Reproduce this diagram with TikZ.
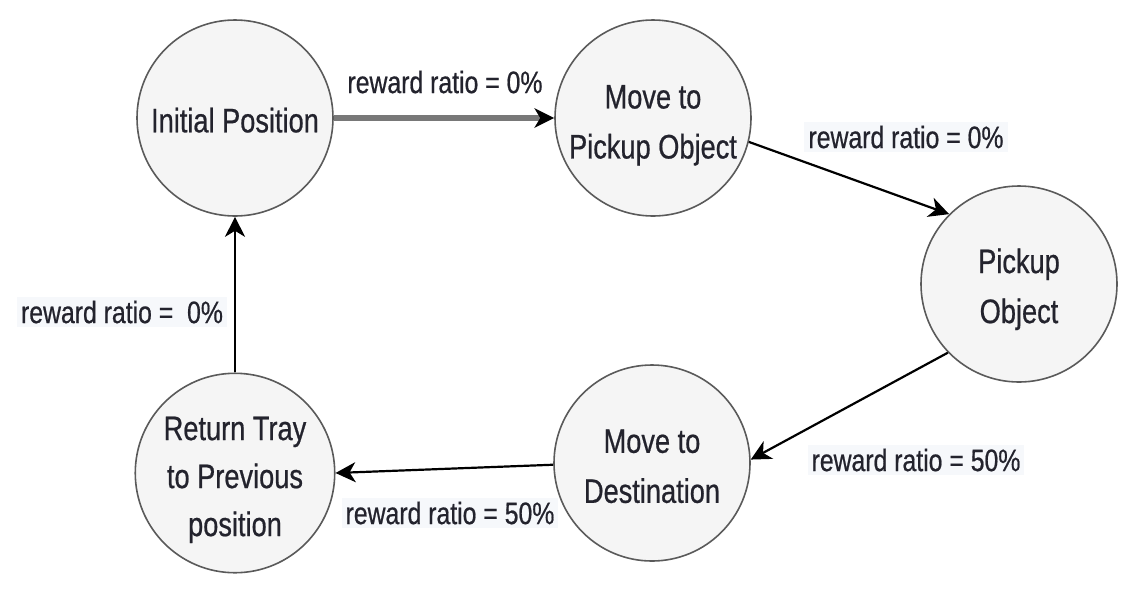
\documentclass[tikz,border=0pt]{standalone}
\usepackage{fontspec}
\setmainfont[FakeStretch=0.8,FakeBold=0.6]{Liberation Sans}
\usetikzlibrary{arrows.meta}
\definecolor{statefill}{RGB}{245,245,245}
\definecolor{stateline}{RGB}{90,90,90}
\definecolor{labelbg}{RGB}{246,248,251}
\definecolor{textcol}{RGB}{35,35,45}
\definecolor{thickgray}{RGB}{120,120,120}
\newcommand{\toppad}[1]{\rule{0pt}{#1}}
\tikzset{
  state/.style={circle, draw=stateline, line width=0.8pt, fill=statefill,
    minimum size=98pt, inner sep=0pt, align=center, text=textcol,
    font=\fontsize{17}{25}\selectfont},
  lbl/.style={fill=labelbg, inner sep=2pt, text=textcol,
    font=\fontsize{15.5}{18}\selectfont},
  tip/.style={-{Stealth[length=10pt,width=10pt,inset=3pt]}},
  conn/.style={line width=1.1pt, draw=black, tip},
  thickconn/.style={line width=2.6pt, draw=thickgray, -{Stealth[length=10pt,width=10pt,inset=3pt,color=black,line width=0pt]}}
}
\begin{document}
\begin{tikzpicture}[x=0.5pt,y=-0.5pt]
\useasboundingbox (0,0) rectangle (1135,596);
\node[state] (init) at (235,118) {\toppad{14.5pt}Initial Position};
\node[state] (mpick) at (653,118) {\toppad{19pt}Move to\\Pickup Object};
\node[state] (pick) at (1019,284) {\toppad{17.6pt}Pickup\\Object};
\node[state] (mdest) at (652,463) {\toppad{15pt}Move to\\Destination};
\node[state, font=\fontsize{17}{24}\selectfont] (ret) at (235,473) {\toppad{18.6pt}Return Tray\\to Previous\\position};

\draw[thickconn] (init) -- (mpick);
\draw[conn] (mpick.-14) -- (pick.135);
\draw[conn] (pick.224) -- (mdest.2);
\draw[conn] (mdest.181) -- (ret.east);
\draw[conn] (ret.north) -- (init.south);

\node[lbl, fill=white] (l1) at (445,82) {reward ratio = 0\%};
\node[lbl] (l2) at (906,137) {reward ratio = 0\%};
\node[lbl] (l3) at (916,460) {reward ratio = 50\%};
\node[lbl] (l4) at (450,513) {reward ratio = 50\%};
\node[lbl] (l5) at (122,312) {reward ratio = \ 0\%};
\end{tikzpicture}
\end{document}
